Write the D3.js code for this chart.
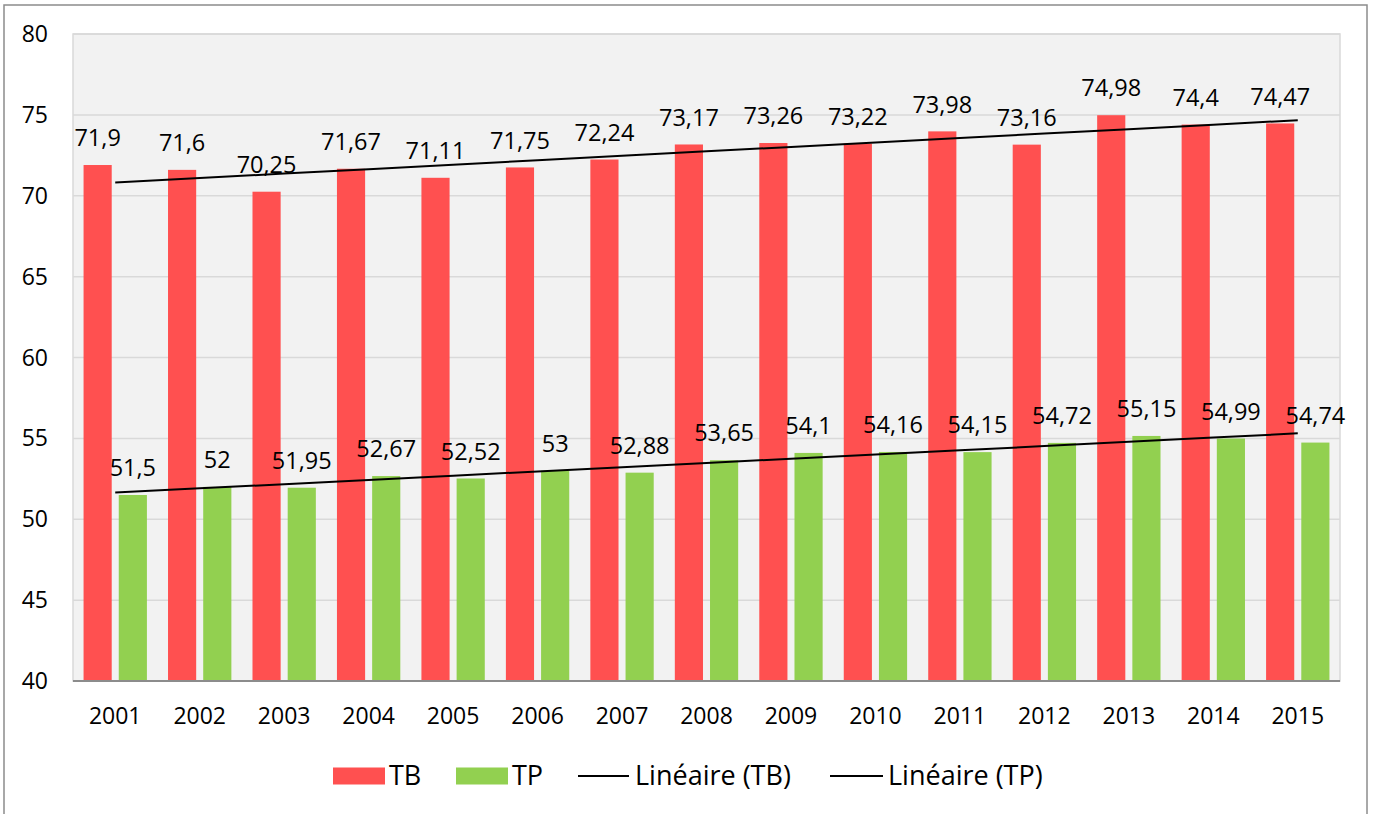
<!DOCTYPE html>
<html>
<head>
<meta charset="utf-8">
<script src="https://cdn.jsdelivr.net/npm/d3@7"></script>
<style>
  body { margin: 0; background: #fff; }
  text { font-family: "Open Sans", sans-serif; fill: #000; }
</style>
</head>
<body>
<div id="chart"></div>
<script>
var years = ["2001", "2002", "2003", "2004", "2005", "2006", "2007", "2008", "2009", "2010", "2011", "2012", "2013", "2014", "2015"];
var tb = [71.9, 71.6, 70.25, 71.67, 71.11, 71.75, 72.24, 73.17, 73.26, 73.22, 73.98, 73.16, 74.98, 74.4, 74.47];
var tp = [51.5, 52, 51.95, 52.67, 52.52, 53, 52.88, 53.65, 54.1, 54.16, 54.15, 54.72, 55.15, 54.99, 54.74];
var yTicks = [40, 45, 50, 55, 60, 65, 70, 75, 80];
var keys = ["TB", "TP"];
var colors = {TB: "#ff5050", TP: "#92d050"};

var width = 1374, height = 814;
var plot = {left: 73, right: 1340, top: 34, bottom: 681};

var svg = d3.select("#chart").append("svg")
    .attr("width", width)
    .attr("height", height);

// outer frame
svg.append("rect")
    .attr("x", 4).attr("y", 5)
    .attr("width", 1363).attr("height", 830)
    .attr("fill", "#fff")
    .attr("stroke", "#8c8c8c")
    .attr("stroke-width", 1.5);

var x0 = d3.scaleBand()
    .domain(years)
    .range([plot.left, plot.right])
    .padding(0);

var x1 = d3.scaleBand()
    .domain(keys)
    .range([0, x0.bandwidth()])
    .paddingInner(0.2)
    .paddingOuter(0.3);

var y = d3.scaleLinear()
    .domain([40, 80])
    .range([plot.bottom, plot.top]);

// plot background
svg.append("rect")
    .attr("x", plot.left).attr("y", plot.top)
    .attr("width", plot.right - plot.left)
    .attr("height", plot.bottom - plot.top)
    .attr("fill", "#f2f2f2")
    .attr("stroke", "#d9d9d9")
    .attr("stroke-width", 1.5);

// gridlines
svg.append("g")
  .selectAll("line")
  .data(yTicks.slice(1))
  .enter().append("line")
    .attr("x1", plot.left).attr("x2", plot.right)
    .attr("y1", function(d) { return y(d); })
    .attr("y2", function(d) { return y(d); })
    .attr("stroke", "#d9d9d9")
    .attr("stroke-width", 1.5);

// y labels
svg.append("g")
  .selectAll("text")
  .data(yTicks)
  .enter().append("text")
    .attr("x", 48)
    .attr("y", function(d) { return y(d); })
    .attr("dy", "0.35em")
    .attr("text-anchor", "end")
    .style("font-size", "23px")
    .text(function(d) { return d; });

var rows = years.map(function(yr, i) { return {year: yr, TB: tb[i], TP: tp[i]}; });

var group = svg.append("g")
  .selectAll("g")
  .data(rows)
  .enter().append("g")
    .attr("transform", function(d) { return "translate(" + x0(d.year) + ",0)"; });

group.selectAll("rect")
    .data(function(d) { return keys.map(function(k) { return {key: k, value: d[k]}; }); })
    .enter().append("rect")
      .attr("x", function(d) { return x1(d.key); })
      .attr("y", function(d) { return y(d.value); })
      .attr("width", x1.bandwidth())
      .attr("height", function(d) { return y(40) - y(d.value); })
      .attr("fill", function(d) { return colors[d.key]; });

// x axis line
svg.append("line")
    .attr("x1", plot.left).attr("x2", plot.right)
    .attr("y1", plot.bottom).attr("y2", plot.bottom)
    .attr("stroke", "#8c8c8c")
    .attr("stroke-width", 2);

// x labels
svg.append("g")
  .selectAll("text")
  .data(years)
  .enter().append("text")
    .attr("x", function(d) { return x0(d) + x0.bandwidth() / 2; })
    .attr("y", 716)
    .attr("dy", "0.35em")
    .attr("text-anchor", "middle")
    .style("font-size", "23px")
    .text(function(d) { return d; });

// linear trendlines (least squares, like Excel)
function trend(vals) {
  var n = vals.length, xs = d3.range(1, n + 1);
  var mx = d3.mean(xs), my = d3.mean(vals);
  var sxy = d3.sum(xs, function(xv, i) { return (xv - mx) * (vals[i] - my); });
  var sxx = d3.sum(xs, function(xv) { return (xv - mx) * (xv - mx); });
  var b = sxy / sxx, a = my - b * mx;
  return years.map(function(yr, i) { return {year: yr, v: a + b * (i + 1)}; });
}

var line = d3.line()
    .x(function(d) { return x0(d.year) + x0.bandwidth() / 2; })
    .y(function(d) { return y(d.v); });

[tb, tp].forEach(function(s) {
  svg.append("path")
      .datum(trend(s))
      .attr("d", line)
      .attr("fill", "none")
      .attr("stroke", "#000")
      .attr("stroke-width", 2);
});

// data labels
group.selectAll("text")
    .data(function(d) { return keys.map(function(k) { return {key: k, value: d[k]}; }); })
    .enter().append("text")
      .attr("x", function(d) { return x1(d.key) + x1.bandwidth() / 2; })
      .attr("y", function(d) { return y(d.value) - 27; })
      .attr("dy", "0.35em")
      .attr("text-anchor", "middle")
      .style("font-size", "23.5px")
      .text(function(d) { return String(d.value).replace(".", ","); });

// legend
var legend = svg.append("g");
var ly = 776;
legend.append("rect").attr("x", 333).attr("y", ly - 8.5).attr("width", 52).attr("height", 17).attr("fill", colors.TB);
legend.append("text").attr("x", 389).attr("y", ly).attr("dy", "0.35em").style("font-size", "27px").text("TB");
legend.append("rect").attr("x", 456).attr("y", ly - 8.5).attr("width", 52).attr("height", 17).attr("fill", colors.TP);
legend.append("text").attr("x", 512).attr("y", ly).attr("dy", "0.35em").style("font-size", "27px").text("TP");
legend.append("line").attr("x1", 578).attr("x2", 629).attr("y1", ly).attr("y2", ly).attr("stroke", "#000").attr("stroke-width", 2);
legend.append("text").attr("x", 635).attr("y", ly).attr("dy", "0.35em").style("font-size", "27px").text("Linéaire (TB)");
legend.append("line").attr("x1", 830).attr("x2", 883).attr("y1", ly).attr("y2", ly).attr("stroke", "#000").attr("stroke-width", 2);
legend.append("text").attr("x", 888).attr("y", ly).attr("dy", "0.35em").style("font-size", "27px").text("Linéaire (TP)");
</script>
</body>
</html>
